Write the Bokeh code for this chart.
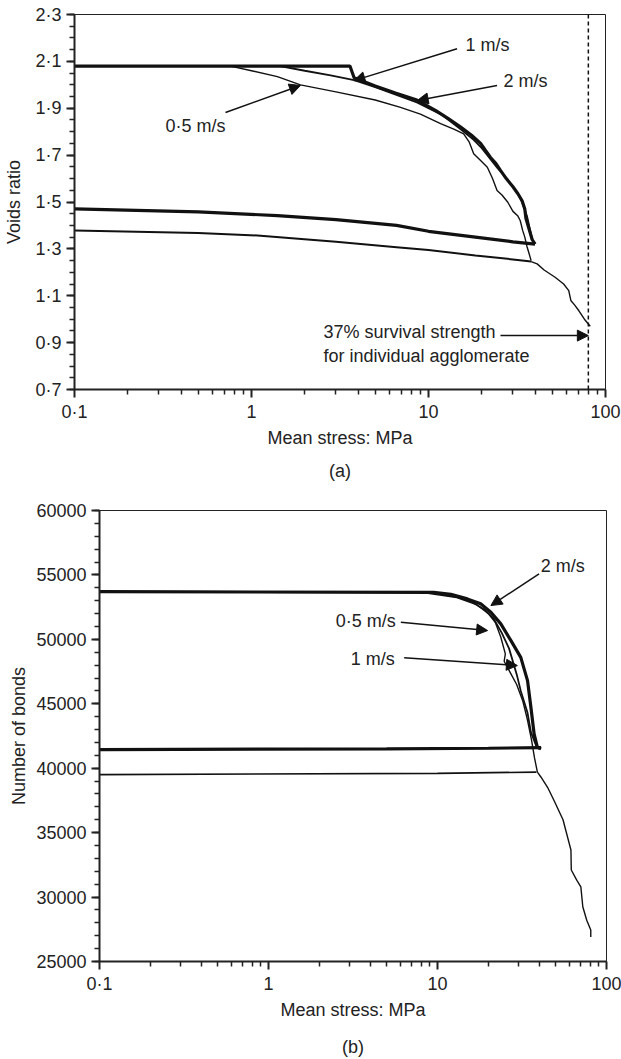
from bokeh.plotting import figure
from bokeh.models import (Range1d, FixedTicker, CustomJSTickFormatter, Arrow,
                          NormalHead, Label, Span, LogAxis)
from bokeh.embed import file_html
from bokeh.resources import INLINE

FONT = "Liberation Sans"
FS = "18px"

# ---------------- Panel (a): voids ratio ----------------
a_load_2_x = [0.1, 3.6, 3.7, 3.8, 5.0, 6.5, 8.6, 11, 13, 15.2, 17.5, 19.7, 21, 22.4, 24, 25.5, 27.5, 30, 32, 33.8, 35, 35.5, 36.5, 37.5, 38.5, 40]
a_load_2_y = [2.08, 2.08, 2.055, 2.03, 1.995, 1.965, 1.935, 1.89, 1.855, 1.82, 1.785, 1.75, 1.72, 1.69, 1.665, 1.635, 1.60, 1.565, 1.535, 1.505, 1.47, 1.43, 1.40, 1.37, 1.34, 1.32]
a_unload_2_x = [40, 30, 18.4, 10, 6.6, 3, 1.4, 0.5, 0.1]
a_unload_2_y = [1.32, 1.33, 1.35, 1.375, 1.40, 1.425, 1.442, 1.458, 1.471]

a_load_1_x = [0.1, 1.45, 2.0, 2.8, 3.8, 5, 8.6, 12, 15.2, 18, 20, 22, 24.5, 27, 30, 33, 34.5, 36, 37, 38, 39, 40]
a_load_1_y = [2.08, 2.08, 2.06, 2.04, 2.02, 1.99, 1.925, 1.87, 1.81, 1.765, 1.73, 1.69, 1.645, 1.61, 1.565, 1.52, 1.48, 1.44, 1.40, 1.36, 1.33, 1.32]

a_load_05_x = [0.1, 0.76, 1.0, 1.4, 1.89, 3, 5, 6.95, 9, 11.7, 14, 15.8, 17, 18, 19.5, 21.5, 23, 24.4, 26, 28, 30, 32, 33, 34, 35, 36, 37, 38]
a_load_05_y = [2.08, 2.08, 2.06, 2.035, 2.0, 1.97, 1.935, 1.904, 1.875, 1.834, 1.81, 1.791, 1.755, 1.706, 1.68, 1.648, 1.60, 1.549, 1.53, 1.50, 1.46, 1.44, 1.42, 1.38, 1.35, 1.31, 1.28, 1.25]
a_unload_05_x = [38, 30, 18.4, 10, 6.6, 3, 1.08, 0.5, 0.1]
a_unload_05_y = [1.246, 1.255, 1.272, 1.295, 1.307, 1.33, 1.357, 1.368, 1.378]
a_tail_x = [38, 41.1, 45, 51.9, 58, 62.0, 63.7, 67, 70.6, 76, 82]
a_tail_y = [1.246, 1.236, 1.21, 1.179, 1.15, 1.122, 1.08, 1.06, 1.037, 1.0, 0.97]

a_survival_stress = 80

# ---------------- Panel (b): number of bonds ----------------
b_load_2_x = [0.1, 9.5, 12, 15, 18, 20.7, 23.7, 27.2, 31.1, 34.1, 35.7, 37.3, 39, 41]
b_load_2_y = [53700, 53650, 53500, 53140, 52760, 52100, 51200, 49900, 48600, 46800, 44730, 42660, 41620, 41500]
b_unload_2_x = [41, 20, 5, 0.1]
b_unload_2_y = [41600, 41550, 41500, 41450]

b_load_1_x = [0.1, 9, 13, 16, 19, 21.5, 24, 26.5, 29.4, 31.1, 34.1, 35.7, 38.5, 40]
b_load_1_y = [53700, 53650, 53300, 52900, 52300, 51600, 50500, 49300, 47300, 46000, 44300, 42800, 41700, 41500]

b_load_05_x = [0.1, 8, 13, 17, 20, 22, 23.7, 25.2, 24.8, 27, 29.4, 32, 34, 36, 37.5, 39]
b_load_05_y = [53700, 53650, 53250, 52700, 52000, 51300, 50160, 48870, 48300, 47400, 46500, 45200, 43800, 42200, 40800, 39700]
b_unload_05_x = [38.5, 10, 0.1]
b_unload_05_y = [39700, 39600, 39500]
b_tail_x = [39, 41, 44.8, 49, 55.3, 61.6, 61.9, 66.8, 70.5, 72.4, 76.4, 80.7, 80.7]
b_tail_y = [39700, 39300, 38520, 37480, 36000, 33650, 32100, 31300, 30800, 29250, 28200, 27450, 26900]

x_major = [0.1, 1, 10, 100]
x_minor = [m * d for d in (0.1, 1, 10) for m in range(2, 10)]
a_y_major = [0.7, 0.9, 1.1, 1.3, 1.5, 1.7, 1.9, 2.1, 2.3]
a_y_minor = [round(0.7 + 0.05 * i, 2) for i in range(33)]
b_y_major = [25000, 30000, 35000, 40000, 45000, 50000, 55000, 60000]
b_y_minor = [25000 + 1000 * i for i in range(36)]

X_FMT = ("if (tick < 1) { return tick.toFixed(1).replace('.', '\\u00b7'); } "
         "return tick.toFixed(0);")


def style(p, xlabel, ylabel, ymajor, yminor, yfmt, ylab_standoff):
    p.xgrid.visible = False
    p.ygrid.visible = False
    p.outline_line_color = "#222222"
    p.outline_line_width = 1
    p.background_fill_color = "white"
    p.border_fill_color = "white"
    p.xaxis.ticker = FixedTicker(ticks=x_major, minor_ticks=x_minor)
    p.xaxis.formatter = CustomJSTickFormatter(code=X_FMT)
    p.yaxis.ticker = FixedTicker(ticks=ymajor, minor_ticks=yminor)
    p.yaxis.formatter = CustomJSTickFormatter(code=yfmt)
    p.xaxis.axis_label = xlabel
    p.yaxis.axis_label = ylabel
    for ax in (p.xaxis, p.yaxis):
        ax.axis_line_width = 2
        ax.axis_line_color = "#222222"
        ax.major_tick_line_width = 2
        ax.minor_tick_line_width = 1.5
        ax.major_tick_line_color = "#222222"
        ax.minor_tick_line_color = "#222222"
        ax.major_tick_out = 8
        ax.major_tick_in = 0
        ax.minor_tick_out = 5
        ax.minor_tick_in = 0
        ax.major_label_text_font = FONT
        ax.major_label_text_font_size = FS
        ax.major_label_text_color = "#222222"
        ax.major_label_standoff = 4
        ax.axis_label_text_font = FONT
        ax.axis_label_text_font_size = FS
        ax.axis_label_text_font_style = "normal"
        ax.axis_label_text_color = "#222222"
    p.yaxis.major_label_standoff = 5
    p.xaxis.axis_label_standoff = 3
    p.yaxis.axis_label_standoff = ylab_standoff


def caption(p, text, standoff):
    # an extra, bare axis below the x axis that only carries the panel caption
    cap = LogAxis(ticker=FixedTicker(ticks=[], minor_ticks=[]), axis_label=text,
                  axis_line_color=None, major_tick_line_color=None, minor_tick_line_color=None,
                  major_tick_out=0, minor_tick_out=0, major_label_standoff=0,
                  axis_label_standoff=standoff, axis_label_text_font=FONT,
                  axis_label_text_font_size=FS, axis_label_text_font_style="normal",
                  axis_label_text_color="#222222")
    p.add_layout(cap, "below")


def label(p, x, y, text):
    p.add_layout(Label(x=x, y=y, text=text, text_font=FONT, text_font_size=FS,
                       text_color="#222222", text_align="left", text_baseline="middle"))


def arrow(p, xs, ys, xe, ye):
    p.add_layout(Arrow(x_start=xs, y_start=ys, x_end=xe, y_end=ye,
                       line_width=1.5, line_color="#111111",
                       end=NormalHead(size=11, fill_color="#111111", line_color="#111111")))


# ---------- figure a ----------
pa = figure(width=621, height=490, x_axis_type="log",
            x_range=Range1d(0.1, 100), y_range=Range1d(0.7, 2.3),
            output_backend="svg", toolbar_location=None,
            min_border_left=74, min_border_right=16, min_border_top=14, min_border_bottom=101)
style(pa, "Mean stress: MPa", "Voids ratio", a_y_major, a_y_minor,
      "return tick.toFixed(1).replace('.', '\\u00b7');", 8)
caption(pa, "(a)", 10)

C = "#111111"
pa.line(a_unload_05_x, a_unload_05_y, line_color=C, line_width=2)
pa.line(a_tail_x, a_tail_y, line_color=C, line_width=1.4)
pa.line(a_load_05_x, a_load_05_y, line_color=C, line_width=1.4)
pa.line(a_load_1_x, a_load_1_y, line_color=C, line_width=1.8)
pa.line(a_unload_2_x, a_unload_2_y, line_color=C, line_width=3.2)
pa.line(a_load_2_x, a_load_2_y, line_color=C, line_width=3.2)

pa.add_layout(Span(location=a_survival_stress, dimension="height", line_color=C,
                   line_width=1.5, line_dash="4 3"))

label(pa, 0.327, 1.826, "0·5 m/s")
arrow(pa, 0.713, 1.882, 1.89, 1.997)
label(pa, 16.2, 2.168, "1 m/s")
arrow(pa, 14.5, 2.154, 3.79, 2.018)
label(pa, 26.5, 2.018, "2 m/s")
arrow(pa, 24.4, 1.997, 8.63, 1.933)
label(pa, 2.55, 0.944, "37% survival strength")
label(pa, 2.55, 0.845, "for individual agglomerate")
arrow(pa, 25.5, 0.930, a_survival_stress, 0.930)

# ---------- figure b ----------
pb = figure(width=621, height=569, x_axis_type="log",
            x_range=Range1d(0.1, 100), y_range=Range1d(25000, 60000),
            output_backend="svg", toolbar_location=None,
            min_border_left=99, min_border_right=15, min_border_top=20, min_border_bottom=98)
style(pb, "Mean stress: MPa", "Number of bonds", b_y_major, b_y_minor,
      "return tick.toFixed(0);", 4)
caption(pb, "(b)", 14)

pb.line(b_unload_05_x, b_unload_05_y, line_color=C, line_width=1.6)
pb.line(b_tail_x, b_tail_y, line_color=C, line_width=1.4)
pb.line(b_load_05_x, b_load_05_y, line_color=C, line_width=1.4)
pb.line(b_load_1_x, b_load_1_y, line_color=C, line_width=1.8)
pb.line(b_unload_2_x, b_unload_2_y, line_color=C, line_width=3.2)
pb.line(b_load_2_x, b_load_2_y, line_color=C, line_width=3.2)

label(pb, 40.8, 55730, "2 m/s")
arrow(pb, 39.9, 55085, 20.7, 52624)
label(pb, 2.50, 51460, "0·5 m/s")
arrow(pb, 6.07, 51328, 19.8, 50683)
label(pb, 3.07, 48486, "1 m/s")
arrow(pb, 6.35, 48564, 29.7, 47966)

open("out.html", "w", encoding="utf-8").write(file_html([pa, pb], INLINE, "Voids ratio and bonds"))
